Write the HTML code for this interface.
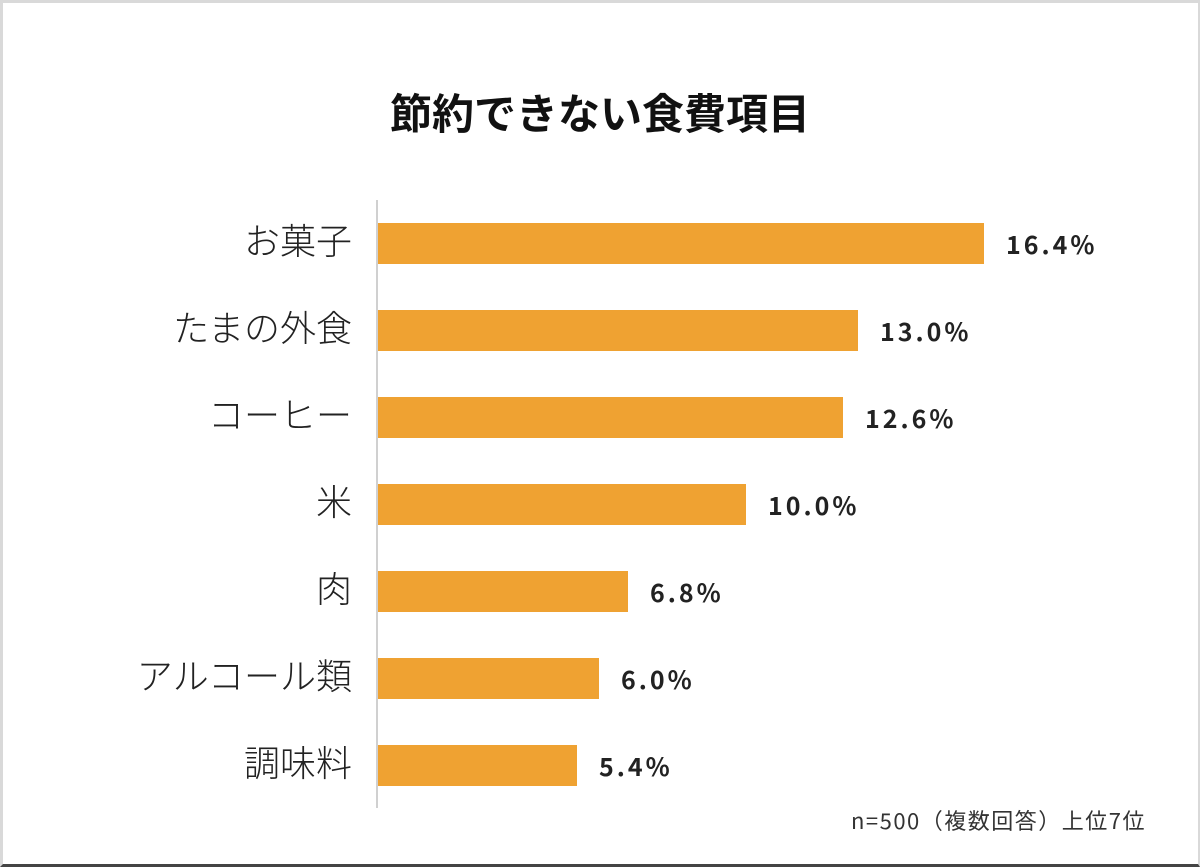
<!DOCTYPE html><html><head><meta charset="utf-8"><style>
body{margin:0;width:1200px;height:867px;background:#fff;position:relative;overflow:hidden;font-family:"Noto Sans CJK JP","Liberation Sans",sans-serif}
.frame{position:absolute;left:0;top:0;width:1200px;height:867px;box-sizing:border-box;border-left:3px solid #d9d9d9;border-top:3px solid #d9d9d9;border-right:2px solid #d9d9d9;border-bottom:3px solid #444}
.t{position:absolute;left:0;width:1200px;top:82px;text-align:center;font-size:42px;font-weight:bold;color:#111;line-height:60px}
.axis{position:absolute;left:376px;top:200px;width:2px;height:608px;background:#d0d0d0}
.bar{position:absolute;left:378px;height:41px;background:#EFA232}
.lab{position:absolute;right:848px;font-size:36px;color:#222;white-space:nowrap;line-height:41px;font-weight:300}
.val{position:absolute;font-size:25px;font-weight:bold;color:#222;line-height:41px;letter-spacing:3px}
.n{position:absolute;left:851px;top:804px;font-size:22px;color:#333;letter-spacing:1.5px;white-space:nowrap}
</style></head><body><div class="frame"></div>
<div class="t">節約できない食費項目</div>
<div class="axis"></div>
<div class="bar" style="top:223px;width:606px"></div><div class="lab" style="top:219px">お菓子</div><div class="val" style="left:1006px;top:224px">16.4%</div>
<div class="bar" style="top:310px;width:480px"></div><div class="lab" style="top:306px">たまの外食</div><div class="val" style="left:880px;top:311px">13.0%</div>
<div class="bar" style="top:397px;width:465px"></div><div class="lab" style="top:393px">コーヒー</div><div class="val" style="left:865px;top:398px">12.6%</div>
<div class="bar" style="top:484px;width:368px"></div><div class="lab" style="top:480px">米</div><div class="val" style="left:768px;top:485px">10.0%</div>
<div class="bar" style="top:571px;width:250px"></div><div class="lab" style="top:567px">肉</div><div class="val" style="left:650px;top:572px">6.8%</div>
<div class="bar" style="top:658px;width:221px"></div><div class="lab" style="top:654px">アルコール類</div><div class="val" style="left:621px;top:659px">6.0%</div>
<div class="bar" style="top:745px;width:199px"></div><div class="lab" style="top:741px">調味料</div><div class="val" style="left:599px;top:746px">5.4%</div>
<div class="n">n=500（複数回答）上位7位</div>
</body></html>
